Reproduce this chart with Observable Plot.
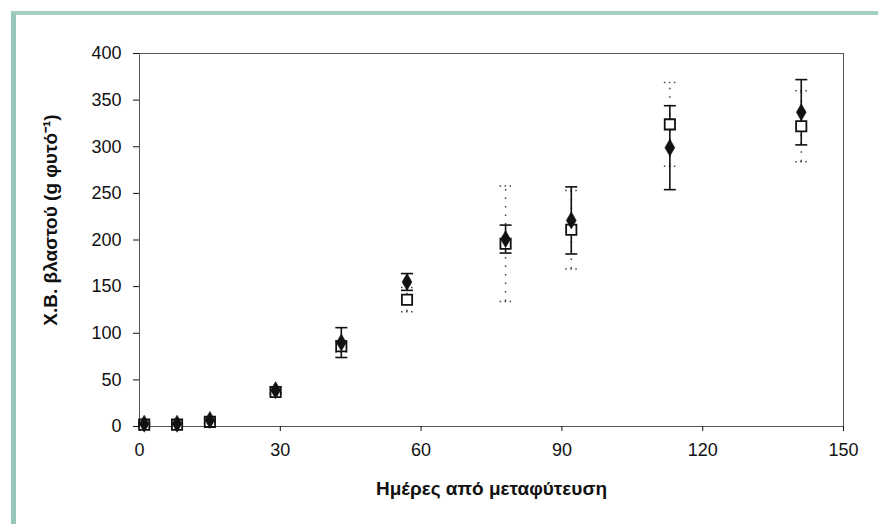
<!DOCTYPE html>
<html>
<head>
<meta charset="utf-8">
<script src="https://cdn.jsdelivr.net/npm/d3@7"></script>
<script src="https://cdn.jsdelivr.net/npm/@observablehq/plot@0.6"></script>
<style>
  html, body { margin: 0; padding: 0; background: #fff; }
  #wrap { position: relative; width: 878px; height: 524px; overflow: hidden; }
  #edge { position: absolute; left: 11px; top: 11px; right: -10px; bottom: -10px;
          border-left: 5px solid #97c7ba; border-top: 4px solid #a6cfc4; pointer-events: none; }
  svg { font-family: "Liberation Sans", Arial, sans-serif; }
</style>
</head>
<body>
<div id="wrap"><div id="edge"></div></div>
<script>
// Days after transplanting
const days = [1, 8, 15, 29, 43, 57, 78, 92, 113, 141];
// Series with filled diamonds (solid error bars)
const seriesA = [3, 3, 7, 39, 90, 155, 201, 221, 299, 337];
const errA    = [1, 1, 2, 3, 16, 9, 15, 36, 45, 35];
// Series with open squares (dotted error bars)
const seriesB = [2, 2, 5, 37, 86, 136, 196, 211, 324, 322];
const errB    = [1, 1, 2, 3, 6, 13, 62, 42, 45, 38];

const xTicks = [0, 30, 60, 90, 120, 150];
const yTicks = [0, 50, 100, 150, 200, 250, 300, 350, 400];
const xTitle = "Ημέρες από μεταφύτευση";
const yTitle = "Χ.Β. βλαστού (g φυτό⁻¹)";

const A = days.map((d, i) => ({day: d, v: seriesA[i], lo: seriesA[i] - errA[i], hi: seriesA[i] + errA[i]}));
const B = days.map((d, i) => ({day: d, v: seriesB[i], lo: seriesB[i] - errB[i], hi: seriesB[i] + errB[i]}));
const capsA = A.flatMap(d => [{day: d.day, y: d.lo}, {day: d.day, y: d.hi}]);
const capsB = B.flatMap(d => [{day: d.day, y: d.lo}, {day: d.day, y: d.hi}]);

const cap = {draw(ctx) { ctx.moveTo(-6, 0); ctx.lineTo(6, 0); }};

const chart = Plot.plot({
  width: 878,
  height: 524,
  marginLeft: 139,
  marginRight: 35,
  marginTop: 53,
  marginBottom: 98,
  style: {fontFamily: "Liberation Sans, Arial, sans-serif", fontSize: "18px", color: "#111", background: "transparent"},
  x: {domain: [0, 150]},
  y: {domain: [0, 400]},
  marks: [
    Plot.frame({stroke: "#555", strokeWidth: 1}),
    Plot.axisX({ticks: xTicks, tickSize: 5, tickPadding: 12, label: null, fontSize: 18}),
    Plot.axisY({ticks: yTicks, tickSize: 6, tickPadding: 12, label: null, fontSize: 18}),
    Plot.text([xTitle], {frameAnchor: "bottom", dy: 68, fontWeight: "bold", fontSize: 19, fill: "#111"}),
    Plot.text([yTitle], {frameAnchor: "left", textAnchor: "middle", dx: -89, dy: -20, rotate: -90, fontWeight: "bold", fontSize: 19, fill: "#111"}),
    // dotted error bars (open squares)
    Plot.ruleX(B, {x: "day", y1: "lo", y2: "hi", stroke: "#444", strokeWidth: 1.5, strokeDasharray: "1.5,7"}),
    Plot.dot(capsB, {x: "day", y: "y", symbol: cap, stroke: "#444", strokeWidth: 1.5, strokeDasharray: "1.5,3.5"}),
    // solid error bars (filled diamonds)
    Plot.ruleX(A, {x: "day", y1: "lo", y2: "hi", stroke: "#111", strokeWidth: 1.6}),
    Plot.dot(capsA, {x: "day", y: "y", symbol: cap, stroke: "#111", strokeWidth: 1.6}),
    Plot.dot(B, {x: "day", y: "v", symbol: "square", r: 5.8, fill: "white", stroke: "#111", strokeWidth: 1.8}),
    Plot.dot(A, {x: "day", y: "v", symbol: "diamond", r: 5.2, fill: "#111", stroke: "#111", strokeWidth: 0.5})
  ]
});
document.getElementById("wrap").prepend(chart);
</script>
</body>
</html>
